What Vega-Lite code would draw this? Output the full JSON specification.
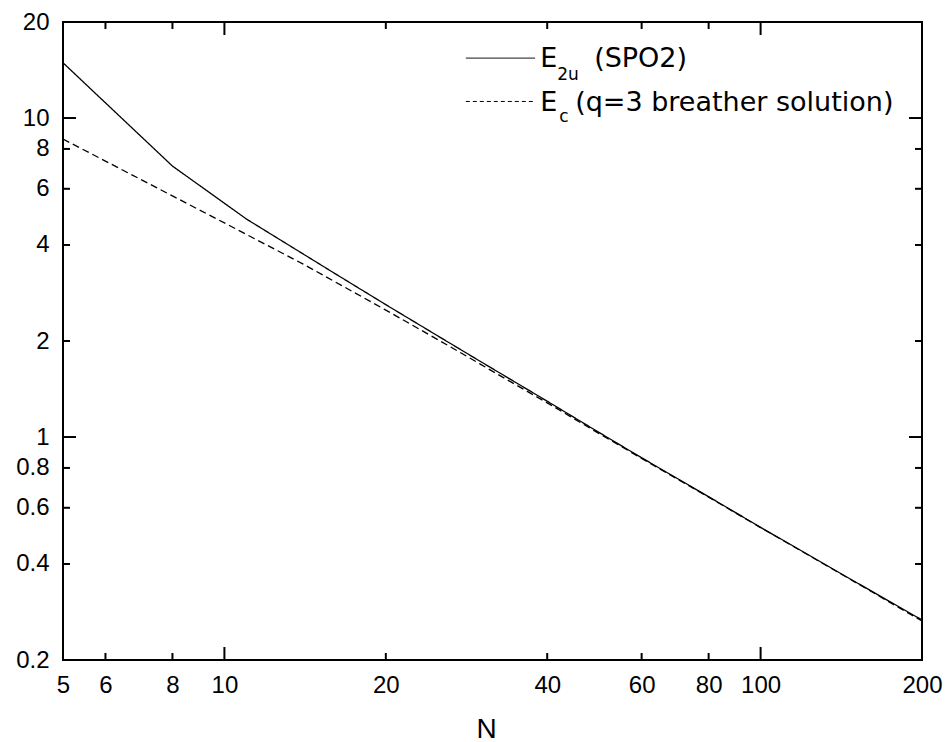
{
  "$schema": "https://vega.github.io/schema/vega-lite/v6.json",
  "autosize": {"type": "none"},
  "padding": {"left": 63, "top": 22, "right": 23, "bottom": 82},
  "width": 859,
  "height": 638,
  "background": "white",
  "config": {"view": {"stroke": "black", "strokeWidth": 2}, "font": "Liberation Sans"},
  "datasets": {
    "curves": [
      {"N": 5, "E": 14.9, "series": "E2u (SPO2)"},
      {"N": 8, "E": 7.07, "series": "E2u (SPO2)"},
      {"N": 11, "E": 4.82, "series": "E2u (SPO2)"},
      {"N": 16, "E": 3.27, "series": "E2u (SPO2)"},
      {"N": 20, "E": 2.6, "series": "E2u (SPO2)"},
      {"N": 25, "E": 2.075, "series": "E2u (SPO2)"},
      {"N": 30, "E": 1.727, "series": "E2u (SPO2)"},
      {"N": 40, "E": 1.295, "series": "E2u (SPO2)"},
      {"N": 50, "E": 1.033, "series": "E2u (SPO2)"},
      {"N": 60, "E": 0.861, "series": "E2u (SPO2)"},
      {"N": 80, "E": 0.65, "series": "E2u (SPO2)"},
      {"N": 100, "E": 0.521, "series": "E2u (SPO2)"},
      {"N": 120, "E": 0.437, "series": "E2u (SPO2)"},
      {"N": 150, "E": 0.352, "series": "E2u (SPO2)"},
      {"N": 200, "E": 0.267, "series": "E2u (SPO2)"},
      {"N": 5, "E": 8.59, "series": "Ec (q=3 breather solution)"},
      {"N": 8, "E": 5.7, "series": "Ec (q=3 breather solution)"},
      {"N": 10, "E": 4.69, "series": "Ec (q=3 breather solution)"},
      {"N": 14, "E": 3.49, "series": "Ec (q=3 breather solution)"},
      {"N": 20, "E": 2.5, "series": "Ec (q=3 breather solution)"},
      {"N": 25, "E": 2.02, "series": "Ec (q=3 breather solution)"},
      {"N": 30, "E": 1.693, "series": "Ec (q=3 breather solution)"},
      {"N": 35, "E": 1.456, "series": "Ec (q=3 breather solution)"},
      {"N": 40, "E": 1.28, "series": "Ec (q=3 breather solution)"},
      {"N": 50, "E": 1.025, "series": "Ec (q=3 breather solution)"},
      {"N": 60, "E": 0.857, "series": "Ec (q=3 breather solution)"},
      {"N": 80, "E": 0.648, "series": "Ec (q=3 breather solution)"},
      {"N": 100, "E": 0.52, "series": "Ec (q=3 breather solution)"},
      {"N": 120, "E": 0.436, "series": "Ec (q=3 breather solution)"},
      {"N": 150, "E": 0.351, "series": "Ec (q=3 breather solution)"},
      {"N": 200, "E": 0.265, "series": "Ec (q=3 breather solution)"}
    ],
    "xminor": [{"N": 6}, {"N": 8}, {"N": 20}, {"N": 40}, {"N": 60}, {"N": 80}],
    "xmajor": [{"N": 10}, {"N": 100}],
    "yminor": [{"E": 0.4}, {"E": 0.6}, {"E": 0.8}, {"E": 2}, {"E": 4}, {"E": 6}, {"E": 8}],
    "ymajor": [{"E": 1}, {"E": 10}],
    "one": [{"k": 1}]
  },
  "layer": [
    {
      "data": {"name": "curves"},
      "mark": {"type": "line", "color": "black", "strokeWidth": 1.3, "clip": true},
      "encoding": {
        "x": {
          "field": "N", "type": "quantitative",
          "scale": {"type": "log", "domain": [5, 200], "nice": false},
          "axis": {
            "orient": "bottom",
            "values": [5, 6, 8, 10, 20, 40, 60, 80, 100, 200],
            "format": "~g",
            "labelFont": "Liberation Sans", "labelFontSize": 24, "labelColor": "black",
            "labelPadding": 13, "labelFlush": false, "labelOverlap": false,
            "ticks": false, "tickSize": 0,
            "domain": false,
            "grid": false,
            "title": "N", "titleFont": "Liberation Sans", "titleFontSize": 28, "titleFontWeight": "normal", "titleColor": "black",
            "titleX": 423, "titleY": 77, "titleBaseline": "alphabetic", "titleAlign": "center"
          }
        },
        "y": {
          "field": "E", "type": "quantitative",
          "scale": {"type": "log", "domain": [0.2, 20], "nice": false},
          "axis": {
            "orient": "left",
            "values": [0.2, 0.4, 0.6, 0.8, 1, 2, 4, 6, 8, 10, 20],
            "format": "~g",
            "labelFont": "Liberation Sans", "labelFontSize": 24, "labelColor": "black",
            "labelPadding": 14, "labelFlush": false, "labelOverlap": false,
            "ticks": false, "tickSize": 0,
            "domain": false,
            "grid": false,
            "title": null
          }
        },
        "strokeDash": {
          "field": "series", "type": "nominal",
          "scale": {"domain": ["E2u (SPO2)", "Ec (q=3 breather solution)"], "range": [[1, 0], [7, 4]]},
          "legend": null
        }
      }
    },
    {
      "data": {"name": "xminor"},
      "mark": {"type": "rule", "color": "black", "strokeWidth": 2},
      "encoding": {"x": {"field": "N", "type": "quantitative"}, "y": {"datum": 0.2, "type": "quantitative"}, "y2": {"datum": 0.2104}}
    },
    {
      "data": {"name": "xminor"},
      "mark": {"type": "rule", "color": "black", "strokeWidth": 2},
      "encoding": {"x": {"field": "N", "type": "quantitative"}, "y": {"datum": 20, "type": "quantitative"}, "y2": {"datum": 19.015}}
    },
    {
      "data": {"name": "xmajor"},
      "mark": {"type": "rule", "color": "black", "strokeWidth": 2},
      "encoding": {"x": {"field": "N", "type": "quantitative"}, "y": {"datum": 0.2, "type": "quantitative"}, "y2": {"datum": 0.2197}}
    },
    {
      "data": {"name": "xmajor"},
      "mark": {"type": "rule", "color": "black", "strokeWidth": 2},
      "encoding": {"x": {"field": "N", "type": "quantitative"}, "y": {"datum": 20, "type": "quantitative"}, "y2": {"datum": 18.21}}
    },
    {
      "data": {"name": "yminor"},
      "mark": {"type": "rule", "color": "black", "strokeWidth": 2},
      "encoding": {"y": {"field": "E", "type": "quantitative"}, "x": {"datum": 5, "type": "quantitative"}, "x2": {"datum": 5.153}}
    },
    {
      "data": {"name": "yminor"},
      "mark": {"type": "rule", "color": "black", "strokeWidth": 2},
      "encoding": {"y": {"field": "E", "type": "quantitative"}, "x": {"datum": 200, "type": "quantitative"}, "x2": {"datum": 194.08}}
    },
    {
      "data": {"name": "ymajor"},
      "mark": {"type": "rule", "color": "black", "strokeWidth": 2},
      "encoding": {"y": {"field": "E", "type": "quantitative"}, "x": {"datum": 5, "type": "quantitative"}, "x2": {"datum": 5.287}}
    },
    {
      "data": {"name": "ymajor"},
      "mark": {"type": "rule", "color": "black", "strokeWidth": 2},
      "encoding": {"y": {"field": "E", "type": "quantitative"}, "x": {"datum": 200, "type": "quantitative"}, "x2": {"datum": 189.14}}
    },
    {
      "data": {"name": "one"},
      "mark": {"type": "rule", "color": "#444", "strokeWidth": 1.2},
      "encoding": {"x": {"datum": 28.2, "type": "quantitative"}, "x2": {"datum": 37.96}, "y": {"datum": 15.4, "type": "quantitative"}}
    },
    {
      "data": {"name": "one"},
      "mark": {"type": "rule", "color": "black", "strokeWidth": 1, "strokeDash": [4, 3]},
      "encoding": {"x": {"datum": 28.2, "type": "quantitative"}, "x2": {"datum": 37.96}, "y": {"datum": 11.27, "type": "quantitative"}}
    },
    {
      "data": {"name": "one"},
      "mark": {"type": "text", "text": "E", "align": "left", "baseline": "alphabetic", "font": "DejaVu Sans", "fontSize": 27, "color": "black", "dy": 9},
      "encoding": {"x": {"datum": 38.8, "type": "quantitative"}, "y": {"datum": 15.4, "type": "quantitative"}}
    },
    {
      "data": {"name": "one"},
      "mark": {"type": "text", "text": "2u", "align": "left", "baseline": "alphabetic", "font": "DejaVu Sans", "fontSize": 17, "color": "black", "dx": 17, "dy": 22},
      "encoding": {"x": {"datum": 38.8, "type": "quantitative"}, "y": {"datum": 15.4, "type": "quantitative"}}
    },
    {
      "data": {"name": "one"},
      "mark": {"type": "text", "text": "(SPO2)", "align": "left", "baseline": "alphabetic", "font": "DejaVu Sans", "fontSize": 27, "color": "black", "dx": 54, "dy": 9},
      "encoding": {"x": {"datum": 38.8, "type": "quantitative"}, "y": {"datum": 15.4, "type": "quantitative"}}
    },
    {
      "data": {"name": "one"},
      "mark": {"type": "text", "text": "E", "align": "left", "baseline": "alphabetic", "font": "DejaVu Sans", "fontSize": 27, "color": "black", "dy": 9.5},
      "encoding": {"x": {"datum": 38.8, "type": "quantitative"}, "y": {"datum": 11.27, "type": "quantitative"}}
    },
    {
      "data": {"name": "one"},
      "mark": {"type": "text", "text": "c", "align": "left", "baseline": "alphabetic", "font": "DejaVu Sans", "fontSize": 17, "color": "black", "dx": 19, "dy": 20.5},
      "encoding": {"x": {"datum": 38.8, "type": "quantitative"}, "y": {"datum": 11.27, "type": "quantitative"}}
    },
    {
      "data": {"name": "one"},
      "mark": {"type": "text", "text": "(q=3 breather solution)", "align": "left", "baseline": "alphabetic", "font": "DejaVu Sans", "fontSize": 27, "color": "black", "dx": 35, "dy": 9.5},
      "encoding": {"x": {"datum": 38.8, "type": "quantitative"}, "y": {"datum": 11.27, "type": "quantitative"}}
    }
  ]
}
